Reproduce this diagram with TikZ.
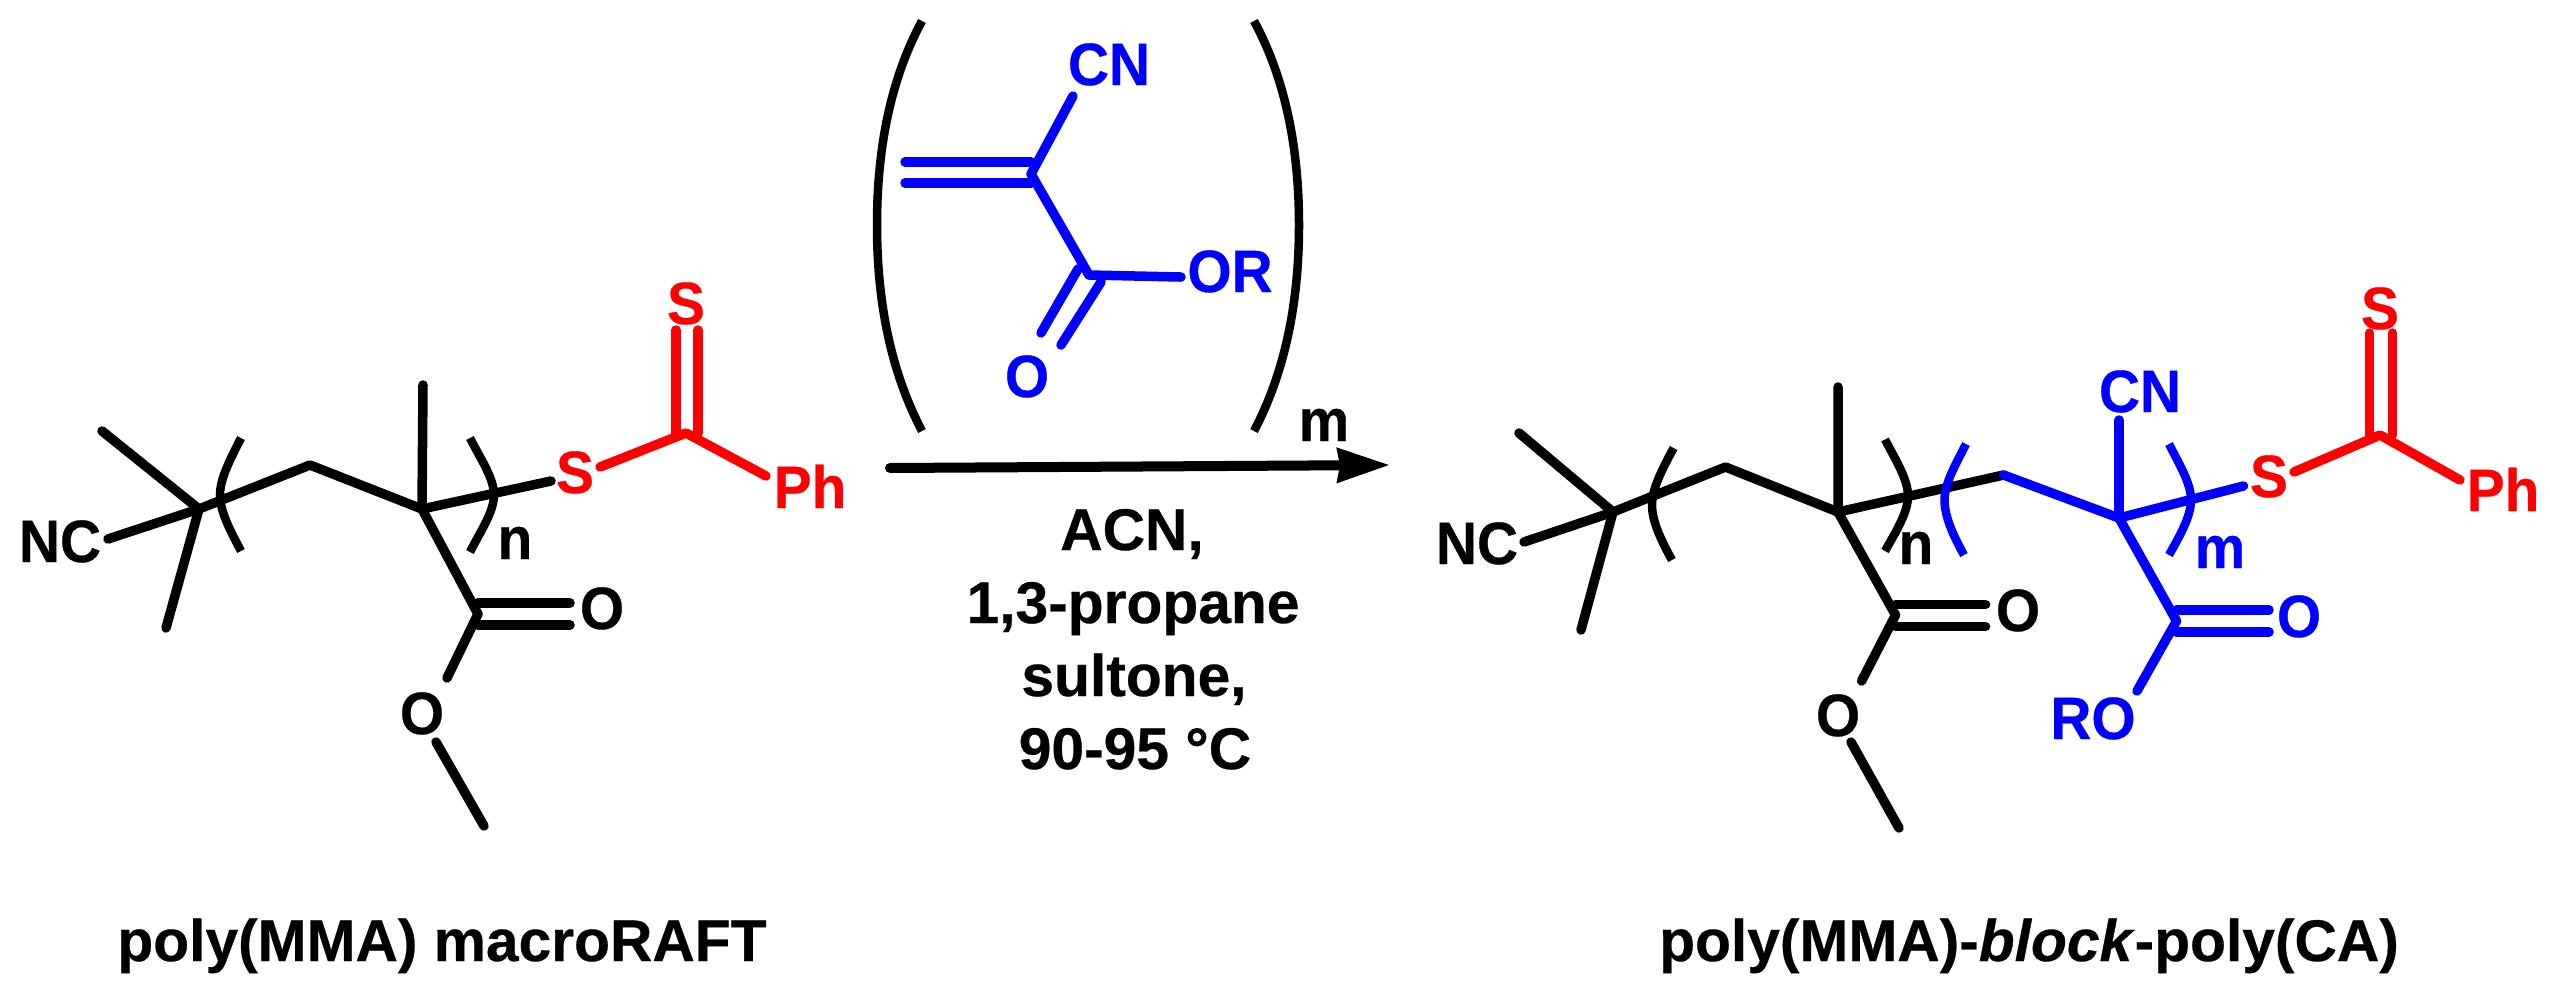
\documentclass[tikz,border=0pt]{standalone}
\usepackage{fontspec}
\setmainfont{Liberation Sans}[BoldFeatures={FakeBold=0.5},BoldItalicFeatures={FakeBold=0.5}]
\usetikzlibrary{arrows.meta}
\newcommand{\atomtxt}[1]{\scalebox{.95}[1]{#1}}
\tikzset{
  bond/.style={line width=.095cm,line cap=round,line join=round},
  paren/.style={line width=.085cm,line cap=butt},
  atomlabel/.style={anchor=base,inner sep=0pt,font=\fontsize{17}{17}\selectfont\bfseries},
  caption/.style={anchor=base,inner sep=0pt,font=\fontsize{16.7}{16.7}\selectfont\bfseries},
  rxnarrow/.style={line width=.1cm,line cap=round,-{Stealth[length=.52cm,width=.33cm,inset=.02cm]}}
}
\begin{document}
\begin{tikzpicture}[x=.01cm,y=-.01cm]
\useasboundingbox (0,0) rectangle (2550,990);
% ---------- left molecule ----------
\coordinate (lC1) at (199,509);
\coordinate (lMe1) at (102,431);
\coordinate (lMe2) at (166,628);
\coordinate (lNCe) at (108,539);
\coordinate (lCH2) at (310,465);
\coordinate (lC2) at (422,509);
\coordinate (lMe3) at (423,385);
\coordinate (lSe) at (551,481);
\coordinate (lSe2) at (600,467);
\coordinate (lCS) at (686,433);
\coordinate (lPhe) at (766,476);
\coordinate (lCS1t) at (676,330);
\coordinate (lCS1b) at (676,433);
\coordinate (lCS2t) at (698,330);
\coordinate (lCS2b) at (698,433);
\coordinate (lCO) at (478,614);
\coordinate (lO1a) at (478,603);
\coordinate (lO1b) at (570,603);
\coordinate (lO2a) at (478,625);
\coordinate (lO2b) at (570,625);
\coordinate (lOe) at (447,678);
\coordinate (lOs) at (436,742);
\coordinate (lMe4) at (484,826);
\node[atomlabel] (lNC) at (60,562) {\atomtxt{NC}};
\node[atomlabel,red] (lS) at (575,493) {\atomtxt{S}};
\node[atomlabel,red] (lStop) at (686,324) {\atomtxt{S}};
\node[atomlabel,red] (lPh) at (810,508) {\atomtxt{Ph}};
\node[atomlabel] (lO) at (602,629) {\atomtxt{O}};
\node[atomlabel] (lOb) at (422,734) {\atomtxt{O}};
\node[atomlabel] (ln) at (515,559) {\atomtxt{n}};
\node[caption] (lcap) at (442,961) {poly(MMA) macroRAFT};
\draw[bond] (lMe1) -- (lC1) -- (lMe2);
\draw[bond] (lNCe) -- (lC1) -- (lCH2) -- (lC2) -- (lMe3);
\draw[bond] (lC2) -- (lSe);
\draw[bond] (lC2) -- (lCO) -- (lOe);
\draw[bond] (lO1a) -- (lO1b);
\draw[bond] (lO2a) -- (lO2b);
\draw[bond] (lOs) -- (lMe4);
\draw[bond,red] (lSe2) -- (lCS) -- (lPhe);
\draw[bond,red] (lCS1t) -- (lCS1b);
\draw[bond,red] (lCS2t) -- (lCS2b);
\draw[paren] (241,438) .. controls (231,458) and (220,478) .. (220,495) .. controls (220,512) and (231,532) .. (241,551);
\draw[paren] (470,438) .. controls (480,458) and (494,478) .. (494,495) .. controls (494,512) and (480,532) .. (470,552);
% ---------- monomer ----------
\coordinate (mA1) at (905,162);
\coordinate (mB1) at (1031,162);
\coordinate (mA2) at (905,183);
\coordinate (mB2) at (1031,183);
\coordinate (mC) at (1031,174);
\coordinate (mCNe) at (1073,96);
\coordinate (mCO) at (1089,275);
\coordinate (mORe) at (1181,277);
\coordinate (mO1a) at (1078,269);
\coordinate (mO1b) at (1041,333);
\coordinate (mO2a) at (1101,282);
\coordinate (mO2b) at (1061,345);
\node[atomlabel,blue] (mCN) at (1109,85) {\atomtxt{CN}};
\node[atomlabel,blue] (mOR) at (1230,292) {\atomtxt{OR}};
\node[atomlabel,blue] (mO) at (1027,397) {\atomtxt{O}};
\draw[bond,blue] (mA1) -- (mB1);
\draw[bond,blue] (mA2) -- (mB2);
\draw[bond,blue] (mCNe) -- (mC) -- (mCO) -- (mORe);
\draw[bond,blue] (mO1a) -- (mO1b);
\draw[bond,blue] (mO2a) -- (mO2b);
\draw[paren] (922,21) .. controls (890,80) and (877,150) .. (877,225) .. controls (877,300) and (890,370) .. (922,431);
\draw[paren] (1254,21) .. controls (1286,80) and (1299,150) .. (1299,225) .. controls (1299,300) and (1286,370) .. (1254,431);
% ---------- arrow ----------
\coordinate (aS) at (890,468);
\coordinate (aE) at (1390,465);
\draw[rxnarrow] (aS) -- (aE);
\node[atomlabel] (mm) at (1324,441) {\atomtxt{m}};
\node[caption] (c1) at (1132,550) {ACN,};
\node[caption] (c2) at (1133,623) {1,3-propane};
\node[caption] (c3) at (1134,696) {sultone,};
\node[caption] (c4) at (1135,769) {90-95 °C};
% ---------- right molecule ----------
\coordinate (rC1) at (1613,512);
\coordinate (rMe1) at (1519,433);
\coordinate (rMe2) at (1581,630);
\coordinate (rNCe) at (1524,542);
\coordinate (rCH2) at (1725.5,467);
\coordinate (rC2) at (1838,512);
\coordinate (rMe3) at (1838,387);
\coordinate (rCH2b) at (2003.6,475);
\coordinate (rC3) at (2119,518);
\coordinate (rCNe) at (2119,420);
\coordinate (rSe) at (2243.5,486);
\coordinate (rSe2) at (2294,472);
\coordinate (rCS) at (2380,435);
\coordinate (rPhe) at (2460,480);
\coordinate (rCS1t) at (2369.6,333);
\coordinate (rCS1b) at (2369.6,435);
\coordinate (rCS2t) at (2392.6,333);
\coordinate (rCS2b) at (2392.6,435);
\coordinate (rCO) at (1895.5,615);
\coordinate (rO1a) at (1895.5,604.6);
\coordinate (rO1b) at (1985.6,604.6);
\coordinate (rO2a) at (1895.5,626.6);
\coordinate (rO2b) at (1985.6,626.6);
\coordinate (rOe) at (1861.6,681);
\coordinate (rOs) at (1851,742);
\coordinate (rMe4) at (1899,828);
\coordinate (rCOb) at (2176.5,621);
\coordinate (rP1a) at (2176.5,610);
\coordinate (rP1b) at (2269,610);
\coordinate (rP2a) at (2176.5,632);
\coordinate (rP2b) at (2269,632);
\coordinate (rROe) at (2137,691);
\node[atomlabel] (rNC) at (1477,564) {\atomtxt{NC}};
\node[atomlabel,blue] (rCN) at (2140,412) {\atomtxt{CN}};
\node[atomlabel,red] (rS) at (2269,497) {\atomtxt{S}};
\node[atomlabel,red] (rStop) at (2380,329) {\atomtxt{S}};
\node[atomlabel,red] (rPh) at (2503,511) {\atomtxt{Ph}};
\node[atomlabel] (rO) at (2018,631) {\atomtxt{O}};
\node[atomlabel] (rOb) at (1838,736) {\atomtxt{O}};
\node[atomlabel] (rn) at (1916,564) {\atomtxt{n}};
\node[atomlabel,blue] (rm) at (2220,568) {\atomtxt{m}};
\node[atomlabel,blue] (rOc) at (2299,637) {\atomtxt{O}};
\node[atomlabel,blue] (rRO) at (2093,739) {\atomtxt{RO}};
\node[caption] (rcap) at (2029,961) {poly(MMA)-\textit{block}-poly(CA)};
\draw[bond] (rMe1) -- (rC1) -- (rMe2);
\draw[bond] (rNCe) -- (rC1) -- (rCH2) -- (rC2) -- (rMe3);
\draw[bond] (rC2) -- (rCH2b);
\draw[bond] (rC2) -- (rCO) -- (rOe);
\draw[bond] (rO1a) -- (rO1b);
\draw[bond] (rO2a) -- (rO2b);
\draw[bond] (rOs) -- (rMe4);
\draw[bond,blue] (rCH2b) -- (rC3) -- (rSe);
\draw[bond,blue] (rC3) -- (rCNe);
\draw[bond,blue] (rC3) -- (rCOb) -- (rROe);
\draw[bond,blue] (rP1a) -- (rP1b);
\draw[bond,blue] (rP2a) -- (rP2b);
\draw[bond,red] (rSe2) -- (rCS) -- (rPhe);
\draw[bond,red] (rCS1t) -- (rCS1b);
\draw[bond,red] (rCS2t) -- (rCS2b);
\draw[paren] (1673.6,448) .. controls (1663,468) and (1652,488) .. (1652,505) .. controls (1652,522) and (1662,542) .. (1672,560);
\draw[paren] (1885,439.5) .. controls (1895,459) and (1908,479) .. (1908,496) .. controls (1908,513) and (1895,533) .. (1885,551);
\draw[paren,blue] (1966,444) .. controls (1956,464) and (1944.5,483) .. (1944.5,500) .. controls (1944.5,517) and (1954,537) .. (1964,555);
\draw[paren,blue] (2169,444) .. controls (2179,464) and (2191,483) .. (2191,500) .. controls (2191,517) and (2179,537) .. (2169,555);
\end{tikzpicture}
\end{document}
